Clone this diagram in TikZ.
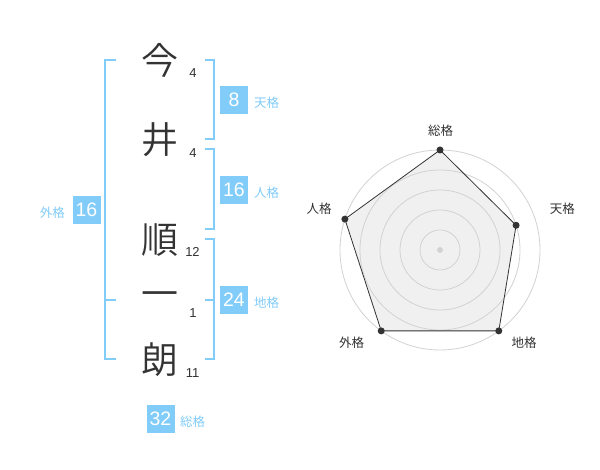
\documentclass[tikz,border=0pt]{standalone}
\usepackage{fontspec}
\usetikzlibrary{calc}
\setmainfont{Liberation Sans}
\newfontfamily\cjk{Noto Sans CJK JP}
\newfontfamily\cjklight{Noto Sans CJK JP DemiLight}
\definecolor{kblue}{RGB}{130,204,250}
\definecolor{kdark}{RGB}{51,51,51}
\definecolor{kring}{RGB}{210,210,210}
\definecolor{kfill}{RGB}{240,240,240}
\tikzset{
  bigchar/.style={font=\cjklight\fontsize{37}{37}\selectfont, text=kdark, inner sep=0pt},
  strokenum/.style={font=\fontsize{13}{13}\selectfont, text=kdark, inner sep=0pt},
  numbox/.style={fill=kblue, text=white, minimum width=28pt, minimum height=28pt, inner sep=0pt, font=\fontsize{19.5}{19.5}\selectfont},
  kaku/.style={font=\cjk\fontsize{12.5}{12.5}\selectfont, text=kblue, inner sep=0pt},
  bracketline/.style={draw=kblue, line width=2pt},
  ring/.style={draw=kring, line width=0.8pt},
  radarlabel/.style={font=\cjk\fontsize{12.5}{12.5}\selectfont, text=kdark, inner sep=0pt},
  vdot/.style={circle, fill=kdark, inner sep=0pt, minimum size=7pt}
}
\begin{document}
\begin{tikzpicture}[x=1pt,y=1pt]
\useasboundingbox (0,0) rectangle (600,470);
\fill[white] (0,0) rectangle (600,470);
% name characters
\node[bigchar] (c1) at (160,410) {今};
\node[bigchar] (c2) at (160,330) {井};
\node[bigchar] (c3) at (160,230) {順};
\node[bigchar] (c4) at (160,170) {一};
\node[bigchar] (c5) at (160,110) {朗};
% stroke counts
\node[strokenum] (n1) at (193,397) {4};
\node[strokenum] (n2) at (193,317) {4};
\node[strokenum] (n3) at (192.5,218) {12};
\node[strokenum] (n4) at (193,157) {1};
\node[strokenum] (n5) at (192.5,97) {11};
% brackets
\coordinate (lt) at (116,410); \coordinate (lb) at (116,110.7);
\draw[bracketline] (lt) -- (105,410) -- (105,110.7) -- (lb);
\coordinate (lm) at (116,170);
\draw[bracketline] (105,170) -- (lm);
\coordinate (r1t) at (205,410); \coordinate (r1b) at (205,330.7);
\draw[bracketline] (r1t) -- (214,410) -- (214,330.7) -- (r1b);
\coordinate (r2t) at (205,320.7); \coordinate (r2b) at (205,240.7);
\draw[bracketline] (r2t) -- (214,320.7) -- (214,240.7) -- (r2b);
\coordinate (r3t) at (205,230.7); \coordinate (r3b) at (205,110.7);
\draw[bracketline] (r3t) -- (214,230.7) -- (214,110.7) -- (r3b);
\coordinate (r3m) at (205,170);
\draw[bracketline] (214,170) -- (r3m);
% boxes and labels
\node[numbox] (ten) at (234,370) {8};
\node[kaku, anchor=west] (tenl) at (254,367) {天格};
\node[numbox] (jin) at (234,280) {16};
\node[kaku, anchor=west] (jinl) at (254,277) {人格};
\node[numbox] (chi) at (234,170) {24};
\node[kaku, anchor=west] (chil) at (254,167) {地格};
\node[numbox] (gai) at (86.5,260) {16};
\node[kaku, anchor=east] (gail) at (65,257) {外格};
\node[numbox] (sou) at (160.5,51) {32};
\node[kaku, anchor=west] (soul) at (180,48) {総格};
% radar chart
\coordinate (rc) at (440,220);
\coordinate (p1) at ($(rc)+(90:100)$);
\coordinate (p2) at ($(rc)+(18:80)$);
\coordinate (p3) at ($(rc)+(-54:100)$);
\coordinate (p4) at ($(rc)+(-126:100)$);
\coordinate (p5) at ($(rc)+(162:100)$);
\fill[kfill] (p1) -- (p2) -- (p3) -- (p4) -- (p5) -- cycle;
\foreach \r in {20,40,60,80,100} \draw[ring] (rc) circle (\r);
\fill[kring] (rc) circle (3);
\draw[kdark, line width=0.8pt] (p1) -- (p2) -- (p3) -- (p4) -- (p5) -- cycle;
\foreach \p in {p1,p2,p3,p4,p5} \node[vdot] at (\p) {};
\node[radarlabel] (l1) at (440.7,339.3) {総格};
\node[radarlabel] (l2) at (562.3,261) {天格};
\node[radarlabel] (l3) at (524,127.7) {地格};
\node[radarlabel] (l4) at (351.7,127.7) {外格};
\node[radarlabel] (l5) at (319,261) {人格};
\end{tikzpicture}
\end{document}
